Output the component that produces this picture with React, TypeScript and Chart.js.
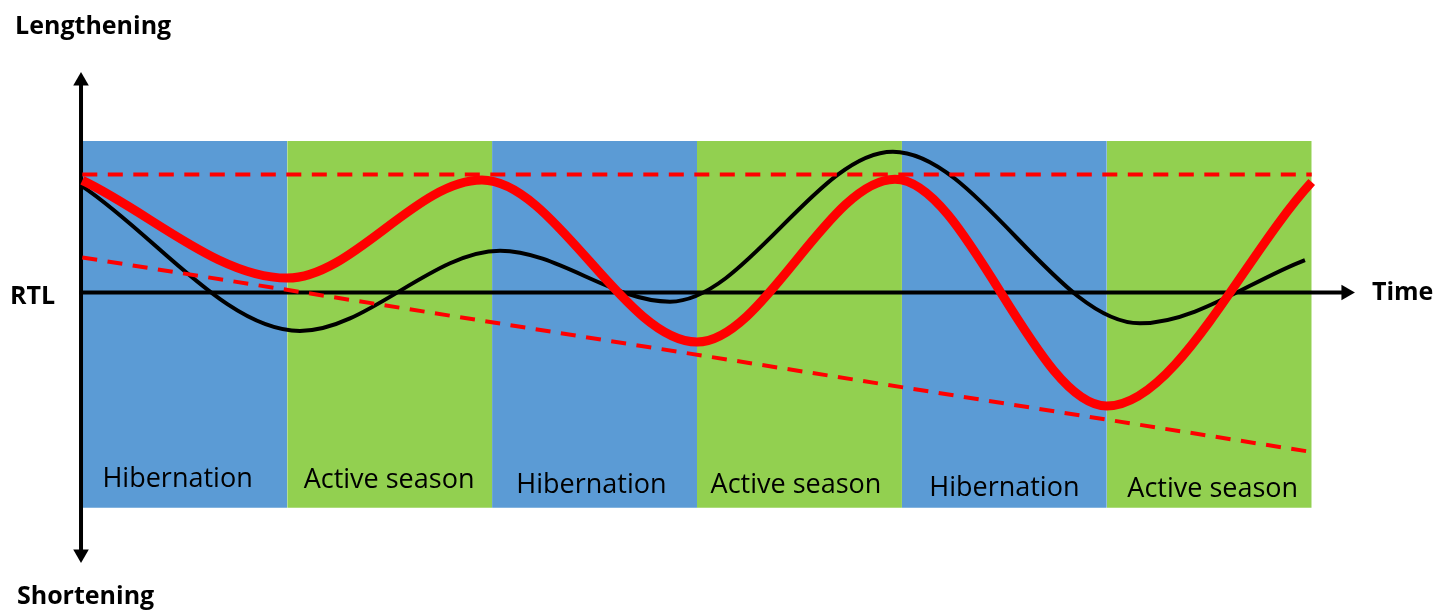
import React, { useEffect, useRef } from "react";
import { Chart, registerables } from "chart.js";

Chart.register(...registerables);

// ---- Data (x in season units: 0..6, y in relative telomere-length units, RTL = 0) ----
const seasons = ["Hibernation", "Active season", "Hibernation", "Active season", "Hibernation", "Active season"];
const seasonKinds = ["hib", "act", "hib", "act", "hib", "act"];
const bandTop = 1.284;
const bandBottom = -1.824;

// turning points of the black curve (start, minima/maxima, end)
const blackX = [0, 1.062, 2.039, 2.868, 3.956, 5.162, 5.967];
const blackY = [0.9, -0.326, 0.354, -0.078, 1.193, -0.261, 0.275];

// turning points of the red curve
const redX = [0, 1.0, 1.95, 3.0, 3.966, 5.0, 6.0];
const redY = [0.95, 0.122, 0.953, -0.42, 0.96, -0.962, 0.936];

const thresholdX = [0, 6];
const thresholdY = [1.0, 1.0];
const trendX = [0, 6];
const trendY = [0.297, -1.352];

// ---- Layout (positions in data units) ----
const X_MIN = -0.4017;
const X_MAX = 6.6798;
const Y_MIN = -2.6992;
const Y_MAX = 2.4788;

const yAxisX = -0.0063;
const yAxisEnds = [-2.216, 1.792];
const xAxisEnds = [-0.016, 6.167];

const seasonLabelX = [0.465, 1.497, 2.485, 3.483, 4.5, 5.517];
const seasonLabelY = [-1.648, -1.657, -1.699, -1.699, -1.725, -1.733];

const axisTexts = [
  { text: "Lengthening", x: -0.328, y: 2.191, baseline: "alphabetic" },
  { text: "Shortening", x: -0.319, y: -2.64, baseline: "alphabetic" },
  { text: "RTL", x: -0.353, y: -0.034, baseline: "middle" },
  { text: "Time", x: 6.294, y: -0.005, baseline: "middle" },
];

const COLORS = { hib: "#5B9BD5", act: "#92D050", red: "#FF0000", black: "#000000" };
const FONT = "'Open Sans', Lato, sans-serif";

const textPlugin = {
  id: "diagramText",
  afterDatasetsDraw(chart: any) {
    const { ctx, scales } = chart;
    const xs = scales.x;
    const ys = scales.y;
    ctx.save();
    ctx.fillStyle = "#000";
    ctx.textAlign = "center";
    ctx.textBaseline = "alphabetic";
    ctx.font = `27px ${FONT}`;
    seasons.forEach((s, i) => {
      ctx.fillText(s, xs.getPixelForValue(seasonLabelX[i]), ys.getPixelForValue(seasonLabelY[i]));
    });
    ctx.font = `bold 25px ${FONT}`;
    ctx.textAlign = "left";
    axisTexts.forEach((t) => {
      ctx.textBaseline = t.baseline;
      ctx.fillText(t.text, xs.getPixelForValue(t.x), ys.getPixelForValue(t.y));
    });
    ctx.restore();
  },
};

export default function App() {
  const ref = useRef<HTMLCanvasElement | null>(null);

  useEffect(() => {
    document.body.style.margin = "0";
    if (!ref.current) return;

    const bandSets = seasons.map((_, i) => ({
      data: [
        { x: i, y: bandTop },
        { x: i + 1, y: bandTop },
      ],
      borderWidth: 0,
      pointRadius: 0,
      backgroundColor: COLORS[seasonKinds[i] as "hib" | "act"],
      fill: { value: bandBottom },
      order: 10,
    }));

    const chart = new Chart(ref.current, {
      type: "line",
      data: {
        datasets: [
          {
            label: "Red",
            data: redX.map((x, i) => ({ x, y: redY[i] })),
            borderColor: COLORS.red,
            borderWidth: 9,
            pointRadius: 0,
            cubicInterpolationMode: "monotone",
            fill: false,
            order: 1,
          },
          {
            label: "Threshold",
            data: thresholdX.map((x, i) => ({ x, y: thresholdY[i] })),
            borderColor: COLORS.red,
            borderWidth: 4,
            borderDash: [15, 10.5],
            pointRadius: 0,
            fill: false,
            order: 2,
          },
          {
            label: "Trend",
            data: trendX.map((x, i) => ({ x, y: trendY[i] })),
            borderColor: COLORS.red,
            borderWidth: 4,
            borderDash: [15, 10.5],
            pointRadius: 0,
            fill: false,
            order: 2,
          },
          {
            label: "Black",
            data: blackX.map((x, i) => ({ x, y: blackY[i] })),
            borderColor: COLORS.black,
            borderWidth: 4,
            pointRadius: 0,
            cubicInterpolationMode: "monotone",
            fill: false,
            order: 3,
          },
          {
            label: "Y axis",
            data: yAxisEnds.map((y) => ({ x: yAxisX, y })),
            borderColor: COLORS.black,
            borderWidth: 4,
            pointStyle: "triangle",
            pointRadius: [9, 9],
            pointRotation: [180, 0],
            pointBackgroundColor: COLORS.black,
            pointBorderWidth: 0,
            fill: false,
            order: 4,
          },
          {
            label: "X axis",
            data: xAxisEnds.map((x) => ({ x, y: 0 })),
            borderColor: COLORS.black,
            borderWidth: 4,
            pointStyle: "triangle",
            pointRadius: [0, 9],
            pointRotation: [0, 90],
            pointBackgroundColor: COLORS.black,
            pointBorderWidth: 0,
            fill: false,
            order: 4,
          },
          ...bandSets,
        ] as any,
      },
      options: {
        animation: false,
        responsive: false,
        events: [],
        layout: { padding: 0, autoPadding: false },
        plugins: { legend: { display: false }, tooltip: { enabled: false } },
        scales: {
          x: { type: "linear", min: X_MIN, max: X_MAX, display: false, bounds: "data" },
          y: { type: "linear", min: Y_MIN, max: Y_MAX, display: false, bounds: "data" },
        },
      },
      plugins: [textPlugin],
    });

    return () => chart.destroy();
  }, []);

  return (
    <div style={{ width: 1451, height: 611, background: "#fff" }}>
      <canvas ref={ref} width={1451} height={611} style={{ display: "block" }} />
    </div>
  );
}
